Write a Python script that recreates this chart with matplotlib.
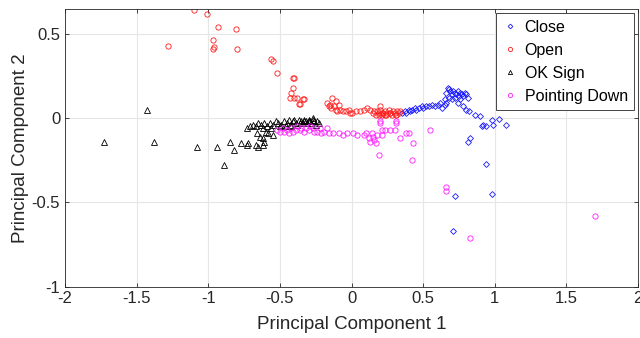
import matplotlib
matplotlib.use("Agg")
import matplotlib.pyplot as plt

plt.rcParams['font.family'] = ['Liberation Sans', 'DejaVu Sans']
plt.rcParams['axes.unicode_minus'] = False

# Close
close_x = [0.35, 0.37, 0.38, 0.40, 0.41, 0.42, 0.44, 0.45, 0.47, 0.49, 0.50, 0.52,
           0.54, 0.56, 0.58, 0.60, 0.62, 0.63, 0.65, 0.66, 0.65,
           0.66, 0.67, 0.68, 0.69, 0.70, 0.71, 0.72, 0.73, 0.74, 0.75, 0.76, 0.77,
           0.78, 0.79, 0.80, 0.81, 0.72, 0.68, 0.70, 0.76, 0.74, 0.78, 0.80, 0.82,
           0.86, 0.90, 0.91, 0.92, 0.94, 0.98, 0.99, 1.03, 1.08, 0.81, 0.83,
           0.94, 0.72, 0.98, 0.71]
close_y = [0.03, 0.04, 0.03, 0.05, 0.04, 0.05, 0.06, 0.05, 0.06, 0.07, 0.06, 0.07,
           0.07, 0.08, 0.07, 0.08, 0.09, 0.06, 0.08, 0.09, 0.11,
           0.15, 0.18, 0.17, 0.16, 0.14, 0.16, 0.15, 0.14, 0.16, 0.13, 0.15, 0.14,
           0.13, 0.15, 0.14, 0.12, 0.12, 0.12, 0.11, 0.11, 0.09, 0.07, 0.05, 0.04,
           0.02, 0.01, -0.05, -0.04, -0.045, -0.01, -0.04, -0.005, -0.04, -0.14, -0.12,
           -0.27, -0.46, -0.45, -0.67]

# Open
open_x = [-1.10, -1.01, -0.93, -0.81, -1.28, -0.97, -0.97, -0.96, -0.80, -0.56, -0.55,
          -0.52, -0.41, -0.40, -0.41, -0.42, -0.43, -0.40, -0.38, -0.33, -0.36, -0.37,
          -0.34, -0.17, -0.16, -0.15, -0.14, -0.12, -0.11, -0.10, -0.08, -0.135, -0.11,
          -0.09, -0.06, -0.04, -0.02, -0.01, 0.005, 0.03, 0.06, 0.09, 0.11, 0.13, 0.16,
          0.20, 0.215, 0.15, 0.17, 0.18, 0.19, 0.20, 0.21, 0.22, 0.23, 0.24, 0.25, 0.26,
          0.27, 0.28, 0.29, 0.30, 0.31, 0.32, 0.33, 0.34, 0.19, 0.23, 0.27, 0.31]
open_y = [0.64, 0.62, 0.54, 0.53, 0.43, 0.46, 0.41, 0.42, 0.41, 0.35, 0.34,
          0.27, 0.24, 0.235, 0.18, 0.15, 0.12, 0.12, 0.12, 0.11, 0.085, 0.085,
          0.11, 0.09, 0.07, 0.08, 0.06, 0.07, 0.05, 0.04, 0.05, 0.12, 0.10,
          0.08, 0.04, 0.04, 0.05, 0.03, 0.03, 0.04, 0.04, 0.05, 0.06, 0.05, 0.04,
          0.07, 0.03, 0.03, 0.02, 0.04, 0.03, 0.05, 0.02, 0.03, 0.04, 0.02, 0.03, 0.05,
          0.03, 0.02, 0.04, 0.03, 0.02, 0.04, 0.03, 0.04, 0.02, 0.02, 0.03, 0.02]

# OK Sign
ok_x = [-1.43, -1.73, -1.38, -1.08, -0.94, -0.89, -0.85, -0.82, -0.77, -0.73, -0.72,
        -0.67, -0.65, -0.62, -0.61, -0.66, -0.64, -0.62, -0.60, -0.58, -0.55,
        -0.73, -0.71, -0.69, -0.67, -0.65, -0.63, -0.61, -0.59, -0.57, -0.55, -0.53,
        -0.51, -0.49, -0.47, -0.45, -0.43, -0.41, -0.39, -0.37, -0.35, -0.34, -0.33,
        -0.32, -0.31, -0.30, -0.29, -0.28, -0.27, -0.26, -0.25, -0.24, -0.23, -0.50,
        -0.46, -0.42, -0.38, -0.36, -0.62, -0.56, -0.40, -0.33, -0.30, -0.27, -0.44]
ok_y = [0.05, -0.14, -0.14, -0.17, -0.17, -0.28, -0.14, -0.19, -0.15, -0.16, -0.15,
        -0.16, -0.17, -0.16, -0.14, -0.09, -0.11, -0.12, -0.08, -0.09, -0.10,
        -0.06, -0.05, -0.04, -0.05, -0.03, -0.04, -0.03, -0.05, -0.03, -0.04, -0.02,
        -0.03, -0.04, -0.02, -0.03, -0.04, -0.02, -0.03, -0.01, -0.02, -0.03, -0.01,
        -0.02, -0.03, -0.01, -0.02, -0.03, 0.0, -0.02, -0.04, -0.02, -0.03, -0.05,
        -0.05, -0.05, -0.04, -0.03, -0.06, -0.06, -0.01, -0.02, -0.015, -0.01, -0.01]

# Pointing Down
down_x = [-0.52, -0.50, -0.48, -0.47, -0.45, -0.44, -0.42, -0.41, -0.39, -0.38, -0.36,
          -0.35, -0.33, -0.32, -0.30, -0.29, -0.27, -0.26, -0.24, -0.22, -0.21, -0.19,
          -0.17, -0.16, -0.13, -0.09, -0.06, -0.03, 0.01, 0.04, 0.09, 0.10, 0.12, 0.13,
          0.15, 0.16, 0.17, 0.18, 0.14, 0.19, 0.20, 0.21, 0.21, 0.23, 0.27, 0.30, 0.31,
          0.34, 0.38, 0.40, 0.42, 0.43, 0.55, 0.66, 0.66, 0.83, 1.70, 0.20, 0.31]
down_y = [-0.07, -0.08, -0.06, -0.08, -0.07, -0.09, -0.06, -0.08, -0.07, -0.05, -0.07,
          -0.06, -0.08, -0.06, -0.07, -0.05, -0.06, -0.08, -0.08, -0.06, -0.09, -0.08,
          -0.06, -0.09, -0.09, -0.09, -0.10, -0.09, -0.09, -0.10, -0.10, -0.09, -0.12, -0.14,
          -0.11, -0.13, -0.15, -0.10, -0.09, -0.22, -0.03, -0.07, -0.10, -0.07, -0.07, -0.07, -0.03,
          -0.12, -0.09, -0.09, -0.25, -0.15, -0.07, -0.41, -0.43, -0.71, -0.58, -0.02, -0.02]

series = [
    ("Close", close_x, close_y, "D", "#1a1aff"),
    ("Open", open_x, open_y, "o", "#ff1a1a"),
    ("OK Sign", ok_x, ok_y, "^", "#000000"),
    ("Pointing Down", down_x, down_y, "o", "#ff1aff"),
]

fig = plt.figure(figsize=(6.4, 3.38), dpi=100)
ax = fig.add_axes([0.1016, 0.152, 0.8954, 0.8205])

for label, xs, ys, marker, color in series:
    ms = 3.0 if marker == "D" else 3.8
    ax.plot(xs, ys, linestyle="none", marker=marker, markersize=ms,
            markerfacecolor="none", markeredgecolor=color,
            markeredgewidth=0.6, label=label)

ax.set_xlim(-2, 2)
ax.set_ylim(-1, 0.645)
ax.set_xticks([-2, -1.5, -1, -0.5, 0, 0.5, 1, 1.5, 2])
ax.set_xticklabels(["-2", "-1.5", "-1", "-0.5", "0", "0.5", "1", "1.5", "2"])
ax.set_yticks([-1, -0.5, 0, 0.5])
ax.set_yticklabels(["-1", "-0.5", "0", "0.5"])
ax.grid(True, color="#e6e6e6", linewidth=0.8)
ax.set_axisbelow(True)
ax.tick_params(direction="in", top=True, right=True, length=3,
               labelsize=12, colors="#262626", width=0.6)
for s in ax.spines.values():
    s.set_color("#262626")
    s.set_linewidth(0.6)

ax.set_xlabel("Principal Component 1", fontsize=13.5, color="#262626", labelpad=7)
ax.set_ylabel("Principal Component 2", fontsize=13.5, color="#262626", labelpad=2)

leg = ax.legend(loc="upper right", fontsize=11.5, handlelength=1.0,
                handletextpad=0.4, borderpad=0.4, labelspacing=0.5,
                fancybox=False, framealpha=1, edgecolor="#262626",
                borderaxespad=0.25, markerscale=0.8)
leg.get_frame().set_linewidth(0.6)

fig.savefig("out.png", dpi=100)
